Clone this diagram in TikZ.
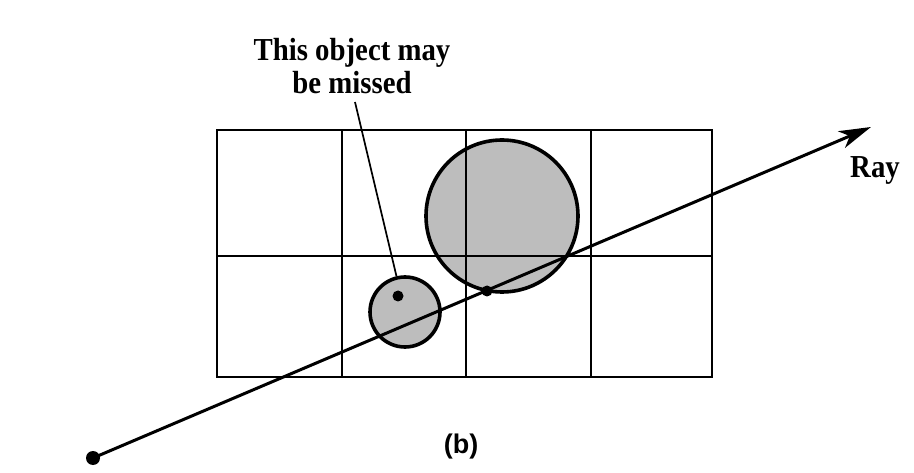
\documentclass[tikz,border=0pt]{standalone}
\usepackage{fontspec}
\setmainfont{Liberation Serif}
\newfontfamily\lblfont[FakeStretch=0.9]{Liberation Serif}
\newfontfamily\capfont{Liberation Sans}
\usetikzlibrary{arrows.meta}
\definecolor{objgray}{HTML}{BDBDBD}
\tikzset{
  gridline/.style={line width=2.4pt, line cap=rect},
  obj/.style={circle, draw=black, line width=3.6pt, fill=objgray, inner sep=0pt},
  objfill/.style={circle, fill=objgray, inner sep=0pt},
  dotnode/.style={circle, fill=black, inner sep=0pt},
  rayline/.style={line width=3pt, -{Stealth[length=32pt,width=18pt,inset=9pt]}},
  leader/.style={line width=1.7pt},
  lbl/.style={font=\lblfont\bfseries\fontsize{32}{33}\selectfont, inner sep=0pt},
  captext/.style={font=\capfont\bfseries\fontsize{27}{30}\selectfont, inner sep=0pt}
}
\begin{document}
\begin{tikzpicture}[x=1pt,y=-1pt]
\useasboundingbox (0,0) rectangle (914,473);
% object fills (grid shows through)
\node[objfill, minimum size=152pt] (bigfill) at (502,216) {};
\node[objfill, minimum size=70pt] (smallfill) at (405,312) {};
% grid
\draw[gridline] (217,130) rectangle (712,377);
\draw[gridline] (342,130) -- (342,377);
\draw[gridline] (466,130) -- (466,377);
\draw[gridline] (591,130) -- (591,377);
\draw[gridline] (217,256) -- (712,256);
% objects
\node[obj, fill=none, minimum size=152pt] (big) at (502,216) {};
\node[obj, fill=none, minimum size=70pt] (small) at (405,312) {};
\node[dotnode, minimum size=11pt] (inner) at (398,296) {};
% ray
\node[dotnode, minimum size=14pt] (start) at (93,458) {};
\coordinate (tip) at (871,127);
\draw[rayline] (start.center) -- (tip);
\node[dotnode, minimum size=11pt] (touch) at (487,291) {};
% labels
\node[lbl, align=center] (label) at (352,66) {This object may\\be missed};
\coordinate (lead) at (355,102);
\draw[leader] (lead) -- (small);
\node[lbl, anchor=base west] (raylabel) at (850,178) {Ray};
\node[captext, anchor=base] (caption) at (461,453) {(b)};
\end{tikzpicture}
\end{document}
